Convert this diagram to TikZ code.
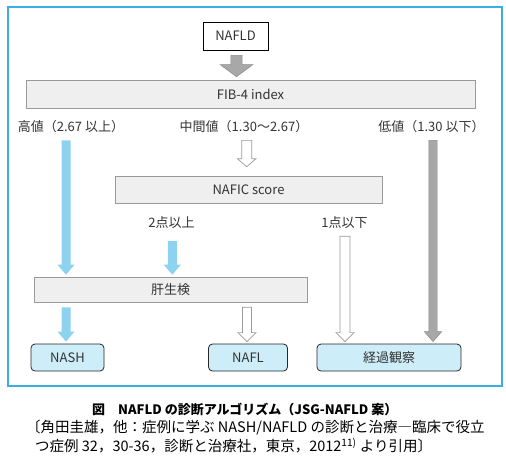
\documentclass[tikz,border=0pt]{standalone}
\usepackage{fontspec}
\setmainfont{Noto Sans CJK JP}
\usetikzlibrary{calc}

\definecolor{arrowblue}{HTML}{8DD3EF}
\definecolor{boxblue}{HTML}{CDEDF8}
\definecolor{framecol}{HTML}{3AAEE0}
\definecolor{boxgray}{HTML}{EFEFEF}
\definecolor{linegray}{HTML}{9A9A9A}
\definecolor{arrowgray}{HTML}{A8A8A8}
\definecolor{textgray}{HTML}{333333}

% block arrow: style, from, to, shaft half width, head half width, head length
\newcommand{\blockarrow}[6]{%
  \draw[#1] let \p1=(#2), \p2=(#3) in
    (\x1-#4pt,\y1) -- (\x1-#4pt,\y2+#6pt) -- (\x1-#5pt,\y2+#6pt) -- (\x1,\y2)
    -- (\x1+#5pt,\y2+#6pt) -- (\x1+#4pt,\y2+#6pt) -- (\x1+#4pt,\y1) -- cycle;}

\begin{document}
\begin{tikzpicture}[x=1pt,y=-1pt,
    every node/.style={text=textgray,font=\fontsize{13}{15}\selectfont},
    graybox/.style={draw=linegray,fill=boxgray,line width=0.6pt,inner sep=0pt},
    endbox/.style={draw=black!85,fill=boxblue,line width=0.8pt,rounded corners=4pt,inner sep=0pt,minimum height=27pt},
    lbl/.style={inner sep=0pt},
    capline/.style={anchor=west,inner sep=0pt,text=black,font=\fontsize{14.5}{16}\selectfont},
    bluearrow/.style={fill=arrowblue,draw=none},
    grayarrow/.style={fill=arrowgray,draw=black!45,line width=0.5pt},
    whitearrow/.style={fill=white,draw=linegray,line width=0.7pt}]
\useasboundingbox (0,0) rectangle (506,467);

\draw [framecol,line width=1.1pt] (8,7) rectangle (502,386);

\node (nafld) at (235.5,36) [draw=black,line width=0.8pt,fill=white,minimum width=65pt,minimum height=28pt,inner sep=0pt] {NAFLD};
\node (fib) at (250.5,94) [graybox,minimum width=449pt,minimum height=28pt] {FIB-4 index};

\node (hi) at (71,127) [lbl] {高値（2.67 以上）};
\node (mid) at (244,127) [lbl] {中間値（1.30～2.67）};
\node (low) at (431.5,127) [lbl] {低値（1.30 以下）};

\node (nafic) at (248.5,189.5) [graybox,minimum width=267pt,minimum height=27pt] {NAFIC score};
\node (ge2) at (171.5,223) [lbl] {2点以上};
\node (le1) at (344.5,223) [lbl] {1点以下};

\node (biopsy) at (170.5,289.5) [graybox,minimum width=273pt,minimum height=25pt] {肝生検};

\node (nash) at (67.5,357.5) [endbox,minimum width=73pt] {NASH};
\node (nafl) at (248,357.5) [endbox,minimum width=79pt] {NAFL};
\node (obs) at (389,357.5) [endbox,minimum width=144pt] {経過観察};

\blockarrow{grayarrow}{$(nafld.south)+(1,5)$}{[yshift=3pt]fib.north}{5.7}{16.3}{12}
\blockarrow{bluearrow}{$(hi.south -| nash.north)+(-1.5,7)$}{[yshift=2pt]biopsy.north}{4.5}{8.5}{10}
\blockarrow{whitearrow}{$(mid.south)+(2.7,7)$}{[yshift=9pt]nafic.north}{5}{9.3}{8}
\blockarrow{grayarrow}{$(low.south)+(1.5,7)$}{[yshift=2pt]obs.north}{4.2}{8.7}{10}
\blockarrow{bluearrow}{$(ge2.south)+(0.8,12)$}{[yshift=2pt]biopsy.north}{4.5}{8.5}{10}
\blockarrow{whitearrow}{$(le1.south)+(0.5,7)$}{[yshift=2pt]obs.north}{5}{9}{9}
\blockarrow{bluearrow}{$(biopsy.south -| nash.north)+(-1.5,5)$}{[yshift=2pt]nash.north}{4.5}{8.5}{10}
\blockarrow{whitearrow}{$(biopsy.south -| nafl.north)+(-1,5)$}{[yshift=2pt]nafl.north}{4.5}{9}{9}

\node (cap1) at (92,409) [anchor=west,inner sep=0pt,text=black,font=\fontsize{13}{16}\selectfont\bfseries] {図\quad NAFLD の診断アルゴリズム（JSG-NAFLD 案）};
\node (cap2) at (26,428) [capline] {〔角田圭雄，他：症例に学ぶ NASH/NAFLD の診断と治療―臨床で役立};
\node (cap3) at (35,446) [capline] {つ症例 32，30-36，診断と治療社，東京，2012\textsuperscript{11)} より引用〕};
\end{tikzpicture}
\end{document}
